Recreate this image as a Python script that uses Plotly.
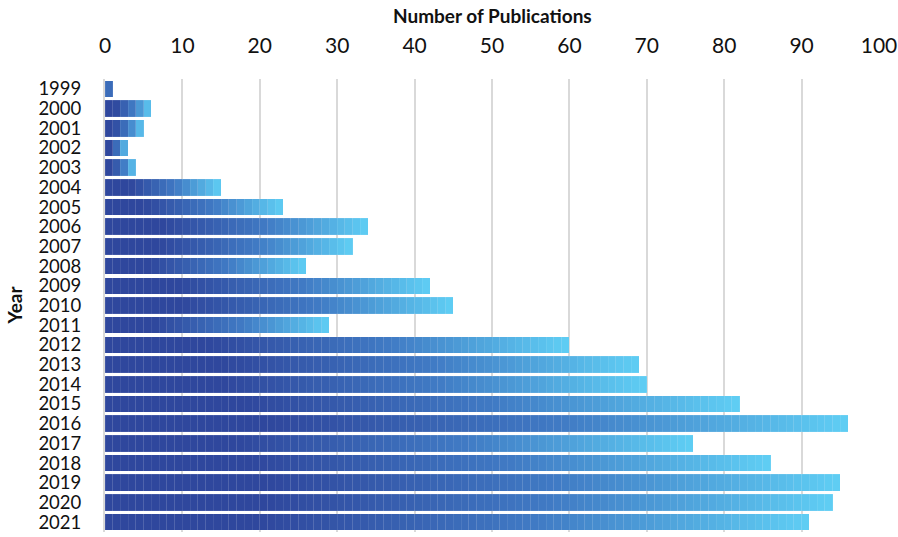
import plotly.graph_objects as go

years = ["1999", "2000", "2001", "2002", "2003", "2004", "2005", "2006", "2007", "2008",
         "2009", "2010", "2011", "2012", "2013", "2014", "2015", "2016", "2017", "2018",
         "2019", "2020", "2021"]
publications = [1, 6, 5, 3, 4, 15, 23, 34, 32, 26, 42, 45, 29, 60, 69, 70, 82, 96, 76, 86, 95, 94, 91]
x_ticks = [0, 10, 20, 30, 40, 50, 60, 70, 80, 90, 100]

dark = (47, 71, 157)
mid = (64, 122, 196)
light = (95, 206, 244)


def grad(t):
    f = max(0.0, (t - 0.22) / 0.78)
    if f < 0.5:
        a, b, g = dark, mid, f / 0.5
    else:
        a, b, g = mid, light, (f - 0.5) / 0.5
    c = [round(a[i] + (b[i] - a[i]) * g) for i in range(3)]
    return f"rgb({c[0]},{c[1]},{c[2]})"


fig = go.Figure()
max_v = max(publications)
for k in range(max_v):
    ys, xs, cols = [], [], []
    for y, v in zip(years, publications):
        if v > k:
            ys.append(y)
            xs.append(1)
            cols.append(grad((k + 0.5) / v))
    fig.add_trace(go.Bar(
        y=ys, x=xs, orientation="h",
        marker=dict(color=cols, line=dict(width=0.4, color="rgba(255,255,255,0.22)")),
        showlegend=False, hoverinfo="skip",
    ))

fig.update_layout(
    barmode="stack",
    bargap=0.16,
    width=898, height=537,
    margin=dict(l=105, r=19, t=79, b=5),
    paper_bgcolor="white", plot_bgcolor="white",
    font=dict(family="Lato, Open Sans, sans-serif", color="#111111"),
    xaxis=dict(
        side="top", range=[0, 100], tickvals=x_ticks, ticktext=[str(t) for t in x_ticks],
        showgrid=True, gridcolor="#d9d9d9", gridwidth=2, zeroline=False, automargin=False,
        showline=False, ticks="", tickfont=dict(size=21), ticklabelstandoff=21,
        ticklabeloverflow="allow",
    ),
    yaxis=dict(
        type="category", categoryorder="array", categoryarray=years, autorange="reversed",
        tickmode="array", tickvals=years, ticktext=years, automargin=False,
        showgrid=False, showline=True, linecolor="#d9d9d9", linewidth=2, ticks="",
        tickfont=dict(size=18.5), ticklabelstandoff=18,
    ),
    annotations=[
        dict(text="<b>Number of Publications</b>", xref="paper", yref="paper",
             x=0.5, y=1, xanchor="center", yanchor="middle", yshift=64,
             showarrow=False, font=dict(size=19)),
        dict(text="<b>Year</b>", xref="paper", yref="paper",
             x=0, y=0.5, xanchor="center", yanchor="middle", xshift=-91, textangle=-90,
             showarrow=False, font=dict(size=19)),
    ],
)

fig.write_html("out.html", config={"displayModeBar": False},
               post_script="document.body.style.margin='0px';")
